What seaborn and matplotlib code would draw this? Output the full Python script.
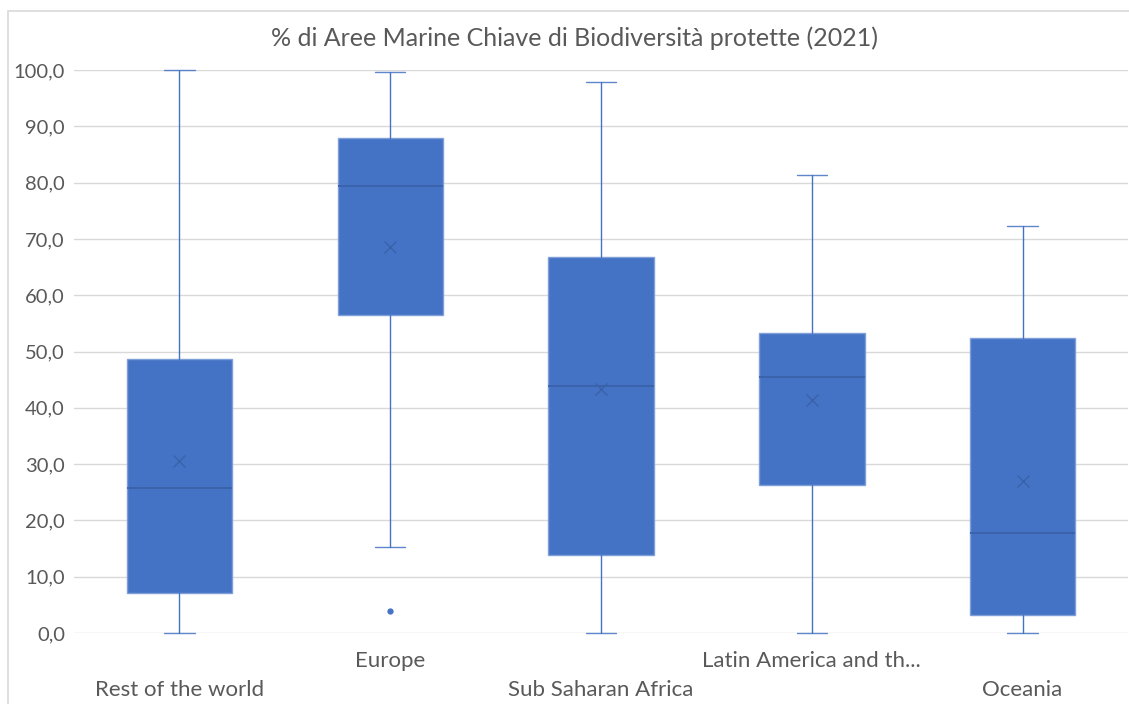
import matplotlib
matplotlib.use("Agg")
import matplotlib.pyplot as plt
from matplotlib.patches import Rectangle
from matplotlib.ticker import FuncFormatter
import seaborn as sns

# Summary statistics per region (% of protected Key Marine Biodiversity Areas, 2021)
regions = ["Rest of the world", "Europe", "Sub Saharan Africa",
           "Latin America and th...", "Oceania"]
whisker_low = [0.0, 15.2, 0.0, 0.0, 0.0]
q1 = [7.1, 56.4, 13.9, 26.3, 3.2]
median = [25.7, 79.4, 43.8, 45.4, 17.8]
mean = [30.5, 68.6, 43.3, 41.4, 27.0]
q3 = [48.6, 88.0, 66.7, 53.3, 52.4]
whisker_high = [100.0, 99.6, 97.9, 81.4, 72.3]
outliers = [[], [3.9], [], [], []]

title = "% di Aree Marine Chiave di Biodiversità protette (2021)"

sns.set_theme(style="whitegrid")
plt.rcParams["font.family"] = ["Lato", "DejaVu Sans"]

BLUE = "#4472C4"
TEXT = "#595959"
GRID = "#D9D9D9"

fig = plt.figure(figsize=(11.29, 7.04), dpi=100)
fig.patch.set_facecolor("white")
# chart area border
fig.patches.append(Rectangle((8 / 1129, -0.05), 1.2, 1 - 11 / 704 + 0.05,
                             transform=fig.transFigure, fill=False,
                             edgecolor="#D9D9D9", linewidth=1.2, zorder=0))

ax = fig.add_axes([74 / 1129, 1 - 633 / 704, (1128 - 74) / 1129, (633 - 70) / 704])

stats = []
for i, name in enumerate(regions):
    stats.append(dict(label=name, whislo=whisker_low[i], q1=q1[i], med=median[i],
                      q3=q3[i], whishi=whisker_high[i], mean=mean[i],
                      fliers=outliers[i]))

ax.bxp(stats, positions=range(len(regions)), widths=0.5, capwidths=0.145,
       patch_artist=True, showmeans=True, showfliers=True,
       boxprops=dict(facecolor=BLUE, edgecolor="#7F9FD8", linewidth=1.0),
       medianprops=dict(color="#3A62AA", linewidth=1.3),
       whiskerprops=dict(color=BLUE, linewidth=1.0),
       capprops=dict(color=BLUE, linewidth=1.0, alpha=0.85),
       meanprops=dict(marker="x", markeredgecolor="#3A62AA", markersize=9,
                      markeredgewidth=1.0),
       flierprops=dict(marker="o", markerfacecolor=BLUE, markeredgecolor=BLUE,
                       markersize=3.5))

for art in ax.get_children():
    try:
        art.set_clip_on(False)
    except Exception:
        pass

ax.set_xlim(-0.5, len(regions) - 0.5)
ax.set_ylim(0, 100)
ax.set_yticks(range(0, 101, 10))
ax.yaxis.set_major_formatter(FuncFormatter(lambda v, p: f"{v:.1f}".replace(".", ",")))

ax.grid(axis="y", color=GRID, linewidth=1.0)
ax.grid(axis="x", visible=False)
ax.set_axisbelow(True)
for s in ax.spines.values():
    s.set_visible(False)
ax.set_facecolor("white")

ax.tick_params(axis="y", length=0, pad=6.5, labelsize=14.5, labelcolor=TEXT)
ax.tick_params(axis="x", length=0, labelsize=16, labelcolor=TEXT)
ax.set_xticks(range(len(regions)))
ax.set_xticklabels(regions)
# staggered category labels
for i, tick in enumerate(ax.xaxis.get_major_ticks()):
    tick.set_pad(34 if i % 2 == 0 else 13)

fig.text(574 / 1129, 1 - 38 / 704, title, ha="center", va="center",
         fontsize=18, color=TEXT)

fig.savefig("out.png", dpi=100, facecolor="white")
